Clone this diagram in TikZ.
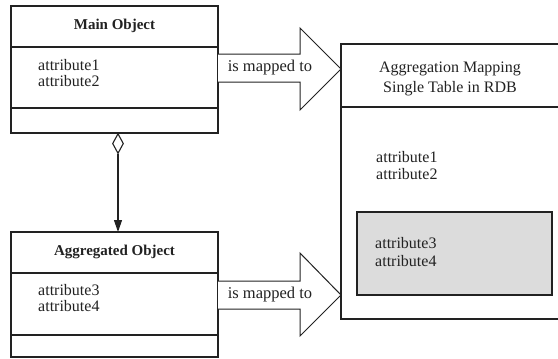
\documentclass[tikz,border=0pt]{standalone}
\usepackage{fontspec}
\setmainfont{Liberation Serif}
\usetikzlibrary{arrows.meta,shapes.geometric}
\definecolor{ink}{HTML}{222222}
\definecolor{shade}{HTML}{DCDCDC}
\begin{document}
\begin{tikzpicture}[x=1pt,y=-1pt,
  line/.style={draw=ink,line width=1.2pt},
  boxtitle/.style={font=\fontsize{15}{16}\selectfont\bfseries,text=ink,inner sep=0pt},
  attr/.style={font=\fontsize{16}{16}\selectfont,text=ink,inner sep=0pt,anchor=west},
  maplabel/.style={font=\fontsize{16.5}{16}\selectfont,text=ink,inner sep=0pt},
  blockarrow/.style={draw=ink,line width=1pt,fill=white,line join=miter}
]
\useasboundingbox (0,0) rectangle (558,359);
\fill[white] (0,0) rectangle (558,359);

% Main object class box
\coordinate (m1) at (11,6);
\coordinate (m2) at (218,133);
\draw[line] (m1) rectangle (m2);
\draw[line] (11,47) -- (218,47);
\draw[line] (11,108) -- (218,108);
\node[boxtitle] (mtitle) at (114.5,26) {Main Object};
\node[attr] (ma1) at (38,65) {attribute1};
\node[attr] (ma2) at (38,81) {attribute2};

% Aggregated object class box
\coordinate (a1) at (11,232);
\coordinate (a2) at (218,357);
\draw[line] (a1) rectangle (a2);
\draw[line] (11,273) -- (218,273);
\draw[line] (11,335) -- (218,335);
\node[boxtitle] (atitle) at (114.5,252) {Aggregated Object};
\node[attr] (aa3) at (38,290) {attribute3};
\node[attr] (aa4) at (38,306) {attribute4};

% aggregation connector
\node[diamond,draw=ink,line width=1.1pt,fill=white,minimum width=11pt,minimum height=20pt,inner sep=0pt,anchor=north] (dia) at (118,133) {};
\coordinate (aggtop) at (118,232);
\draw[line,-{Triangle[length=12pt,width=8pt]}] (dia.south) -- (aggtop);

% upper block arrow
\draw[blockarrow] (218,54) -- (300,54) -- (300,28) -- (341,69) -- (300,110) -- (300,82) -- (218,82);
\node[maplabel] (map1) at (270,68) {is mapped to};

% lower block arrow
\draw[blockarrow] (218,281) -- (300,281) -- (300,253) -- (341,295) -- (300,336) -- (300,309) -- (218,309);
\node[maplabel] (map2) at (270,295) {is mapped to};

% table box
\draw[line] (558,44) -- (341,44) -- (341,319) -- (558,319);
\draw[line] (341,107) -- (558,107);
\node[font=\fontsize{16}{20}\selectfont,text=ink,align=center,inner sep=0pt] (ttitle) at (450,79) {Aggregation Mapping\\Single Table in RDB};
\node[attr] (ta1) at (376,157) {attribute1};
\node[attr] (ta2) at (376,174) {attribute2};

% shaded embedded part
\draw[line,fill=shade] (357,212) rectangle (552,295);
\node[attr] (ta3) at (375,243) {attribute3};
\node[attr] (ta4) at (375,261) {attribute4};
\end{tikzpicture}
\end{document}
